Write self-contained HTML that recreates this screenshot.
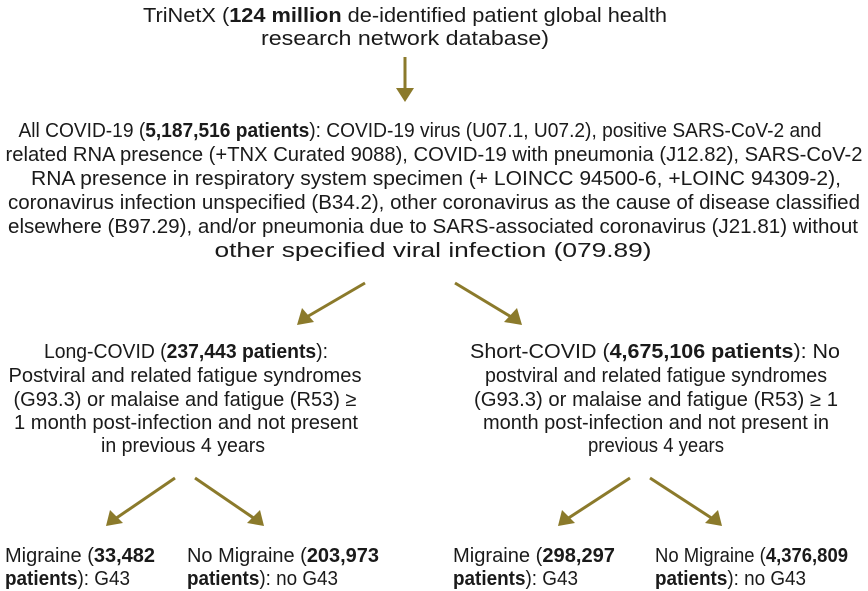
<!DOCTYPE html>
<html><head><meta charset="utf-8"><style>
html,body{margin:0;padding:0;background:#fff;}
svg{display:block;font-family:"Liberation Sans",Arial,sans-serif;font-size:20px;fill:#1a1a1a;}
.b{font-weight:bold;}
</style></head><body>
<svg width="868" height="591" viewBox="0 0 868 591" xmlns="http://www.w3.org/2000/svg">
<g stroke="#8b7a2b" stroke-width="3" fill="none">
<line x1="405" y1="57" x2="405" y2="90"/>
<line x1="365" y1="283" x2="305" y2="318"/>
<line x1="455" y1="283" x2="513" y2="318"/>
<line x1="175" y1="478" x2="115" y2="519"/>
<line x1="195" y1="478" x2="255" y2="519"/>
<line x1="630" y1="478" x2="567" y2="519"/>
<line x1="650" y1="478" x2="713" y2="519"/>
</g>
<g fill="#8b7a2b">
<polygon points="396,88 414,88 405,102"/>
<polygon points="297,325 302,308 314,322"/>
<polygon points="522,325 517,308 504,322"/>
<polygon points="106,526 110,510 123,523"/>
<polygon points="264,526 260,510 247,523"/>
<polygon points="558,526 562,510 575,523"/>
<polygon points="722,526 718,510 705,523"/>
</g>
<g text-anchor="middle">
<text x="405" y="22" textLength="524" lengthAdjust="spacingAndGlyphs">TriNetX (<tspan class="b">124 million</tspan> de-identified patient global health</text>
<text x="405" y="45" textLength="288" lengthAdjust="spacingAndGlyphs">research network database)</text>

<text x="420" y="137" textLength="803" lengthAdjust="spacingAndGlyphs">All COVID-19 (<tspan class="b">5,187,516 patients</tspan>): COVID-19 virus (U07.1, U07.2), positive SARS-CoV-2 and</text>
<text x="434" y="161" textLength="857" lengthAdjust="spacingAndGlyphs">related RNA presence (+TNX Curated 9088), COVID-19 with pneumonia (J12.82), SARS-CoV-2</text>
<text x="436" y="185" textLength="810" lengthAdjust="spacingAndGlyphs">RNA presence in respiratory system specimen (+ LOINCC 94500-6, +LOINC 94309-2),</text>
<text x="434" y="209" textLength="852" lengthAdjust="spacingAndGlyphs">coronavirus infection unspecified (B34.2), other coronavirus as the cause of disease classified</text>
<text x="433" y="233" textLength="850" lengthAdjust="spacingAndGlyphs">elsewhere (B97.29), and/or pneumonia due to SARS-associated coronavirus (J21.81) without</text>
<text x="433" y="257" textLength="437" lengthAdjust="spacingAndGlyphs">other specified viral infection (079.89)</text>

<text x="186" y="358" textLength="284" lengthAdjust="spacingAndGlyphs">Long-COVID (<tspan class="b">237,443 patients</tspan>):</text>
<text x="185" y="382" textLength="353" lengthAdjust="spacingAndGlyphs">Postviral and related fatigue syndromes</text>
<text x="185" y="406" textLength="343" lengthAdjust="spacingAndGlyphs">(G93.3) or malaise and fatigue (R53)  ≥</text>
<text x="186" y="429" textLength="344" lengthAdjust="spacingAndGlyphs">1 month post-infection and not present</text>
<text x="183" y="452" textLength="164" lengthAdjust="spacingAndGlyphs">in previous 4 years</text>

<text x="655" y="358" textLength="370" lengthAdjust="spacingAndGlyphs">Short-COVID (<tspan class="b">4,675,106 patients</tspan>): No</text>
<text x="656" y="382" textLength="342" lengthAdjust="spacingAndGlyphs">postviral and related fatigue syndromes</text>
<text x="656" y="406" textLength="364" lengthAdjust="spacingAndGlyphs">(G93.3) or malaise and fatigue (R53)  ≥ 1</text>
<text x="656" y="429" textLength="346" lengthAdjust="spacingAndGlyphs">month post-infection and not present in</text>
<text x="656" y="452" textLength="136" lengthAdjust="spacingAndGlyphs">previous 4 years</text>
</g>
<g>
<text x="5" y="562" textLength="150" lengthAdjust="spacingAndGlyphs">Migraine (<tspan class="b">33,482</tspan></text>
<text x="5" y="585" textLength="125" lengthAdjust="spacingAndGlyphs"><tspan class="b">patients</tspan>): G43</text>
<text x="187" y="562" textLength="192" lengthAdjust="spacingAndGlyphs">No Migraine (<tspan class="b">203,973</tspan></text>
<text x="187" y="585" textLength="151" lengthAdjust="spacingAndGlyphs"><tspan class="b">patients</tspan>): no G43</text>
<text x="453" y="562" textLength="162" lengthAdjust="spacingAndGlyphs">Migraine (<tspan class="b">298,297</tspan></text>
<text x="453" y="585" textLength="125" lengthAdjust="spacingAndGlyphs"><tspan class="b">patients</tspan>): G43</text>
<text x="655" y="562" textLength="193" lengthAdjust="spacingAndGlyphs">No Migraine (<tspan class="b">4,376,809</tspan></text>
<text x="655" y="585" textLength="151" lengthAdjust="spacingAndGlyphs"><tspan class="b">patients</tspan>): no G43</text>
</g>
</svg>
</body></html>
